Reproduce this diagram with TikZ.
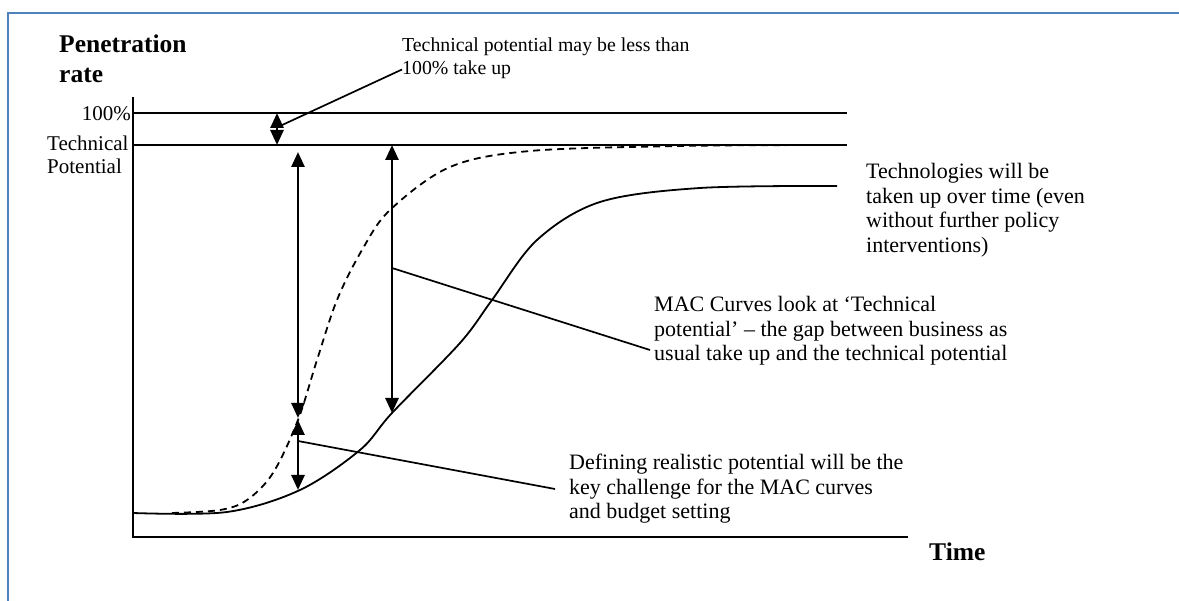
\documentclass[tikz,border=0pt]{standalone}
\usepackage{fontspec}
\setmainfont{Liberation Serif}
\usetikzlibrary{arrows.meta}
\definecolor{framecol}{RGB}{79,129,189}
\begin{document}
\begin{tikzpicture}[x=1pt,y=-1pt,
    note/.style={anchor=west,align=left,inner sep=0pt,
        font=\fontsize{22}{24.5}\selectfont},
    sidelabel/.style={note,font=\fontsize{21}{23}\selectfont},
    axislabel/.style={anchor=west,align=left,inner sep=0pt,
        font=\fontsize{25.5}{30}\selectfont\bfseries},
    gap/.style={line width=2.6pt,
        {Triangle[length=15pt,width=13pt]}-{Triangle[length=15pt,width=13pt]}},
    pointer/.style={line width=1.7pt},
    curve/.style={line width=1.8pt}]
            \useasboundingbox (0,0) rectangle (1179,601);
            \def\full{113}
            \def\tech{145}
            \def\ybase{537}
            \draw[framecol,line width=2pt] (8,601)--(8,13)--(1179,13);
            \draw[line width=2.6pt] (133,97)--(133,\ybase)--(908,\ybase);
            \draw[line width=2.2pt] (133,\full)--(847,\full);
            \draw[line width=2.2pt] (133,\tech)--(847,\tech);
            \draw[curve] plot[smooth,tension=0.55] coordinates
                {(133,513) (227,512) (300,490) (360,450) (392,413)
                 (460,343) (492,300) (537,240) (600,202) (700,188) (837,186)};
            \draw[curve,dash pattern=on 7pt off 5pt] plot[smooth,tension=0.55] coordinates
                {(172,513) (220,510) (247,500) (273,473) (298,420) (317,360)
                 (337,300) (362,250) (390,210) (450,167) (530,151) (680,146) (830,145)};
            \coordinate (fulltip) at (277,\full);
            \coordinate (techtip) at (277,\tech);
            \coordinate (gapAtop) at (298,152);
            \coordinate (gapAbot) at (298,418);
            \coordinate (gapBtop) at (298,420);
            \coordinate (gapBbot) at (298,490);
            \coordinate (bautop) at (392,\tech);
            \coordinate (baubot) at (392,413);
            \coordinate (smallmid) at (280,126);
            \coordinate (baumid) at (392,268);
            \coordinate (gapBmid) at (298,441);
            \draw[gap] (fulltip)--(techtip);
            \draw[gap] (gapAtop)--(gapAbot);
            \draw[gap] (gapBtop)--(gapBbot);
            \draw[gap] (bautop)--(baubot);
            \node[axislabel] (ylab) at (59,59) {Penetration\\rate};
            \node[axislabel] (xlab) at (929,552) {Time};
            \node[sidelabel,anchor=east] (fulllab) at (131,114) {100\%};
            \node[sidelabel] (techlab) at (47,155) {Technical\\Potential};
            \node[note,font=\fontsize{19.8}{23}\selectfont] (tpnote) at (402,58)
                {Technical potential may be less than\\100\% take up};
            \node[note] (technote) at (866,210)
                {Technologies will be\\taken up over time (even\\without further policy\\interventions)};
            \node[note] (macnote) at (654,331)
                {MAC Curves look at ‘Technical\\potential’ – the gap between business as\\usual take up and the technical potential};
            \node[note] (realnote) at (569,489)
                {Defining realistic potential will be the\\key challenge for the MAC curves\\and budget setting};
            \draw[pointer] (smallmid)--([yshift=-11.5pt]tpnote.west);
            \draw[pointer] (baumid)--([xshift=-4pt,yshift=-19pt]macnote.west);
            \draw[pointer] (gapBmid)--([xshift=-14pt]realnote.west);
            \end{tikzpicture}
\end{document}
